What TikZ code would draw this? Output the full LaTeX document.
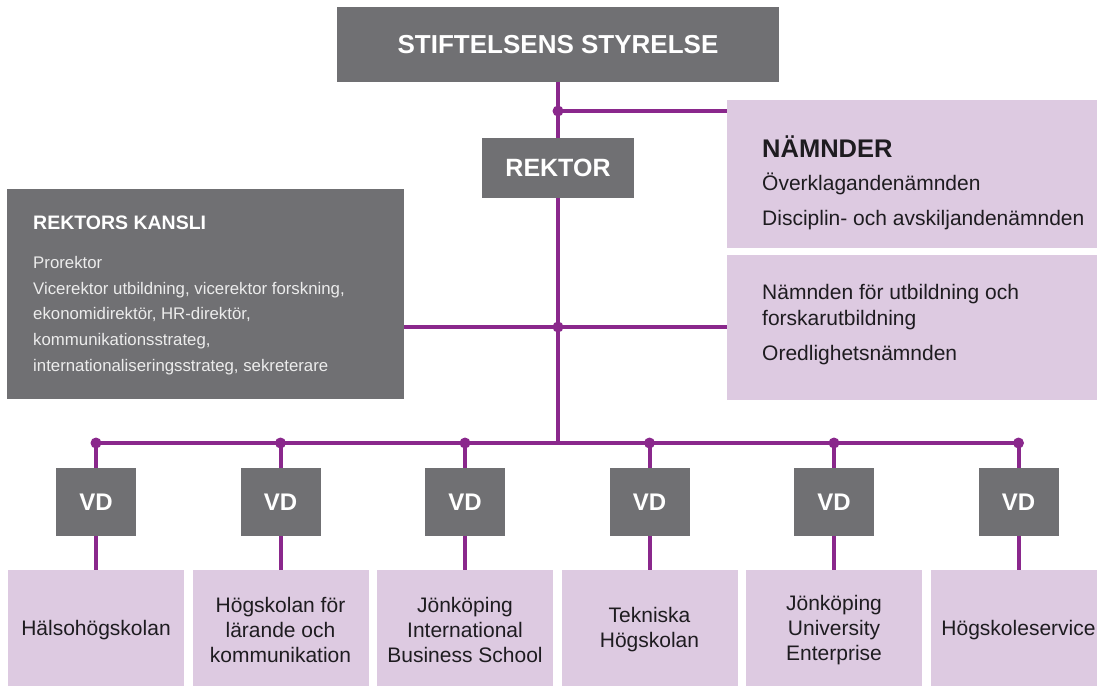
\documentclass[tikz,border=0pt]{standalone}
\usepackage{fontspec}
\setmainfont{Liberation Sans}
\definecolor{boxgray}{RGB}{112,112,115}
\definecolor{lilac}{RGB}{221,202,225}
\definecolor{linepurple}{RGB}{138,40,140}
\definecolor{darktext}{RGB}{30,28,32}
\definecolor{lightgraytext}{RGB}{236,236,236}
\begin{document}
\begin{tikzpicture}[x=1pt,y=-1pt,
  graybox/.style={fill=boxgray, draw=none, text=white, inner sep=0pt},
  lilacbox/.style={fill=lilac, draw=none, text=darktext, inner sep=0pt, align=center},
  conn/.style={draw=linepurple, line width=4pt},
  jdot/.style={fill=linepurple},
  vdbox/.style={graybox, minimum width=80pt, minimum height=68pt, font=\bfseries\fontsize{24}{28}\selectfont},
  unitbox/.style={lilacbox, minimum width=176pt, minimum height=120pt, font=\fontsize{21}{25}\selectfont},
  ntext/.style={anchor=base west, inner sep=0pt, text=darktext, font=\fontsize{21}{25}\selectfont}
]
\useasboundingbox (0,0) rectangle (1097,685);
\clip (0,0) rectangle (1097,685);

% top level
\node[graybox, minimum width=442pt, minimum height=75pt, font=\bfseries\fontsize{26}{30}\selectfont] (top) at (558,44.5) {STIFTELSENS STYRELSE};
\node[graybox, minimum width=152pt, minimum height=60pt, font=\bfseries\fontsize{25}{29}\selectfont] (rektor) at (558,168) {REKTOR};

% namnder
\node[lilacbox, minimum width=379pt, minimum height=148pt] (namnd1) at (916.5,174) {};
\node[lilacbox, minimum width=379pt, minimum height=145pt] (namnd2) at (916.5,327.5) {};
\node[ntext, font=\bfseries\fontsize{25.5}{29}\selectfont] (nhead) at (762,157) {NÄMNDER};
\node[ntext] (n1) at (762,190) {Överklagandenämnden};
\node[ntext] (n2) at (762,225) {Disciplin- och avskiljandenämnden};
\node[ntext] (n3) at (762,299) {Nämnden för utbildning och};
\node[ntext] (n4) at (762,325) {forskarutbildning};
\node[ntext] (n5) at (762,360) {Oredlighetsnämnden};

% rektors kansli
\node[graybox, minimum width=397pt, minimum height=210pt] (kansli) at (205.5,294) {};
\node[anchor=base west, inner sep=0pt, text=white, font=\bfseries\fontsize{19.5}{23}\selectfont] (khead) at (33,229) {REKTORS KANSLI};
\node[anchor=north west, inner sep=0pt, text=lightgraytext, align=left, font=\fontsize{16.8}{25.8}\selectfont] (kbody) at (33,256)
  {Prorektor\\
   Vicerektor utbildning, vicerektor forskning,\\
   ekonomidirektör, HR-direktör,\\
   kommunikationsstrateg,\\
   internationaliseringsstrateg, sekreterare};

% junctions
\coordinate (j1) at (558,111);
\coordinate (j2) at (558,327);
\coordinate (bc) at (558,443);

% VD and units
\foreach \i/\x in {1/96,2/280.5,3/465,4/649.5,5/834,6/1018.5}{
  \coordinate (b\i) at (\x,443);
  \node[vdbox] (vd\i) at (\x,502) {VD};
}
\node[unitbox] (u1) at (96,630) {Hälsohögskolan};
\node[unitbox] (u2) at (280.5,630) {Högskolan för\\lärande och\\kommunikation};
\node[unitbox] (u3) at (465,630) {Jönköping\\International\\Business School};
\node[unitbox] (u4) at (649.5,630) {Tekniska\\Högskolan};
\node[unitbox] (u5) at (834,630) {Jönköping\\University\\Enterprise};
\node[unitbox] (u6) at (1018.5,630) {Högskoleservice};

% connectors
\draw[conn] (top.south) -- (rektor.north);
\draw[conn] (j1) -- (namnd1.west |- j1);
\draw[conn] (rektor.south) -- (bc);
\draw[conn] (kansli.east |- j2) -- (namnd2.west |- j2);
\draw[conn] (b1) -- (b6);
\foreach \i in {1,...,6}{
  \draw[conn] (b\i) -- (vd\i.north);
  \draw[conn] (vd\i.south) -- (u\i.north);
}
\foreach \p in {j1,j2,b1,b2,b3,b4,b5,b6}{
  \fill[jdot] (\p) circle (5.5pt);
}
\end{tikzpicture}
\end{document}
